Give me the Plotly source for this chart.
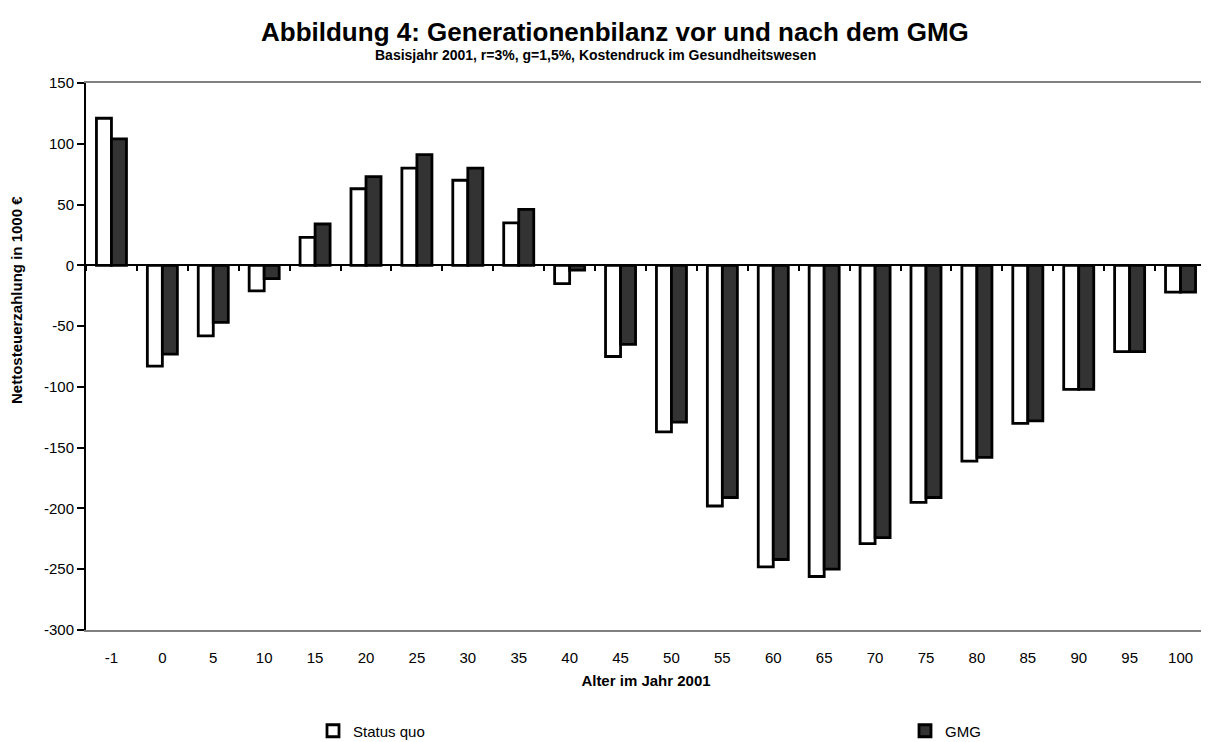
import plotly.graph_objects as go

categories = ["-1", "0", "5", "10", "15", "20", "25", "30", "35", "40", "45",
              "50", "55", "60", "65", "70", "75", "80", "85", "90", "95", "100"]
status_quo = [121, -83, -58, -21, 23, 63, 80, 70, 35, -15, -75,
              -137, -198, -248, -256, -229, -195, -161, -130, -102, -71, -22]
gmg = [104, -73, -47, -11, 34, 73, 91, 80, 46, -4, -65,
       -129, -191, -242, -250, -224, -191, -158, -128, -102, -71, -22]
y_ticks = [150, 100, 50, 0, -50, -100, -150, -200, -250, -300]
y_tick_labels = ["150", "100", "50", "0", "-50", "-100", "-150", "-200", "-250", "-300"]

FONT = "Liberation Sans, Arial, sans-serif"
W, H = 1201, 734          # page body adds an 8 px offset
L, R, T, B = 78, 3, 75, 112
PW, PH = W - L - R, H - T - B

fig = go.Figure()
fig.add_trace(go.Bar(x=categories, y=status_quo, name="Status quo", legend="legend",
                     marker=dict(color="white", line=dict(color="black", width=2.8))))
fig.add_trace(go.Bar(x=categories, y=gmg, name="GMG", legend="legend2",
                     marker=dict(color="#333333", line=dict(color="black", width=2.8))))
# invisible trace carrying the tick marks on the zero line
fig.add_trace(go.Scatter(x=categories, y=[0] * len(categories), xaxis="x2",
                         mode="markers", marker=dict(opacity=0), showlegend=False,
                         hoverinfo="skip"))

legend_common = dict(xref="container", yref="container", yanchor="middle",
                     xanchor="left", font=dict(family=FONT, size=15),
                     itemwidth=30, bgcolor="rgba(0,0,0,0)")

fig.update_layout(
    width=W, height=H,
    paper_bgcolor="white", plot_bgcolor="white",
    margin=dict(l=L, r=R, t=T, b=B, autoexpand=False),
    barmode="group", bargap=0.41, bargroupgap=0,
    font=dict(family=FONT, color="black", size=15),
    showlegend=True,
    legend=dict(x=305 / W, y=(H - 723) / H, **legend_common),
    legend2=dict(x=897 / W, y=(H - 723) / H, **legend_common),
    xaxis=dict(type="category", range=[-0.5, 21.5], showline=True, linecolor="#808080",
               linewidth=2, mirror=True, ticks="", showgrid=False, ticklabelstandoff=13,
               tickfont=dict(family=FONT, size=15),
               title=dict(text="<b>Alter im Jahr 2001</b>", standoff=10,
                          font=dict(family=FONT, size=15))),
    xaxis2=dict(type="category", overlaying="x", matches="x", anchor="free",
                position=2 / 3, showline=False, showgrid=False,
                ticks="outside", tickson="boundaries", ticklen=5, tickwidth=1.5,
                tickcolor="black", showticklabels=False),
    yaxis=dict(range=[-300, 150], tickvals=y_ticks, ticktext=y_tick_labels,
               showline=True, linecolor="black",
               linewidth=2, ticks="outside", ticklen=7, tickwidth=1.5, tickcolor="black",
               showgrid=False, zeroline=True, zerolinecolor="black", zerolinewidth=2,
               tickfont=dict(family=FONT, size=15)),
    annotations=[
        dict(text="<b>Abbildung 4: Generationenbilanz vor und nach dem GMG</b>",
             xref="paper", yref="paper", x=(607 - L) / PW, y=1.0, yshift=51,
             showarrow=False, xanchor="center", yanchor="middle",
             font=dict(family=FONT, size=26)),
        dict(text="<b>Basisjahr 2001, r=3%, g=1,5%, Kostendruck im Gesundheitswesen</b>",
             xref="paper", yref="paper", x=(587 - L) / PW, y=1.0, yshift=28,
             showarrow=False, xanchor="center", yanchor="middle",
             font=dict(family=FONT, size=14)),
        dict(text="<b>Nettosteuerzahlung in 1000 €</b>", textangle=-90,
             xref="paper", yref="paper", x=0, xshift=-70, y=(H - B - 292) / PH,
             showarrow=False, xanchor="center", yanchor="middle",
             font=dict(family=FONT, size=15)),
    ],
)

fig.write_html("out.html")
